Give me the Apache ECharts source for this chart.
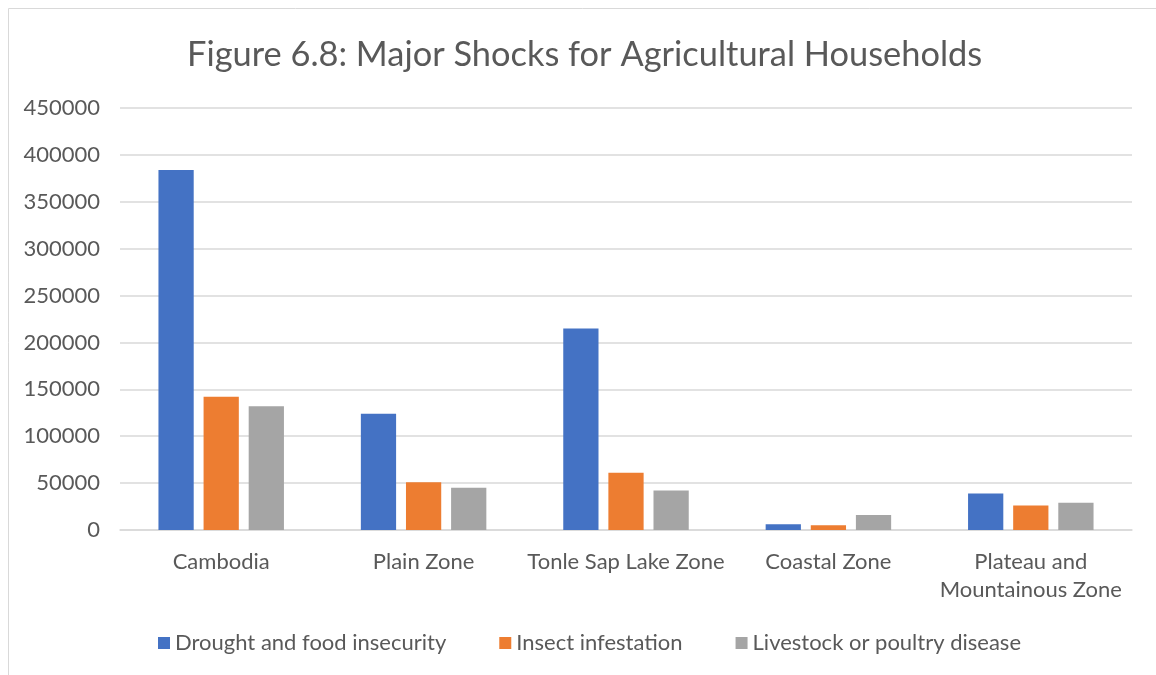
<!DOCTYPE html>
<html>
<head>
<meta charset="utf-8">
<script src="https://cdn.jsdelivr.net/npm/echarts@6/dist/echarts.min.js"></script>
<style>
  html, body { margin: 0; padding: 0; background: #fff; }
  #chart { width: 1156px; height: 675px; }
</style>
</head>
<body>
<div id="chart"></div>
<script>
// Zones and household counts per shock type
const categories = ['Cambodia', 'Plain Zone', 'Tonle Sap Lake Zone', 'Coastal Zone', 'Plateau and\nMountainous Zone'];
const drought = [384000, 124000, 215000, 6000, 39000];
const insect = [142000, 51000, 61000, 5000, 26000];
const livestock = [132000, 45000, 42000, 16000, 29000];
const seriesNames = ['Drought and food insecurity', 'Insect infestation', 'Livestock or poultry disease'];
const colors = ['#4472c4', '#ed7d31', '#a5a5a5'];

const font = 'Lato, "Open Sans", sans-serif';
const textColor = '#595959';

const chart = echarts.init(document.getElementById('chart'));
chart.setOption({
  animation: false,
  graphic: [{
    type: 'rect',
    shape: { x: 8.5, y: 8.5, width: 1160, height: 680 },
    style: { fill: 'none', stroke: '#d9d9d9', lineWidth: 1 },
    silent: true
  }],
  title: {
    text: 'Figure 6.8: Major Shocks for Agricultural Households',
    left: 182,
    top: 33,
    textStyle: { fontFamily: font, fontSize: 34.4, fontWeight: 'normal', color: textColor }
  },
  legend: {
    bottom: 16,
    left: 153,
    itemWidth: 12,
    itemHeight: 12,
    itemGap: 53,
    icon: 'rect',
    textStyle: { fontFamily: font, fontSize: 22, color: textColor },
    data: seriesNames
  },
  grid: { left: 120, right: 24, top: 108, bottom: 145 },
  xAxis: {
    type: 'category',
    data: categories,
    axisLine: { lineStyle: { color: '#d9d9d9', width: 1.5 } },
    axisTick: { show: false },
    axisLabel: { interval: 0, fontFamily: font, fontSize: 22, color: textColor, margin: 18, lineHeight: 28 }
  },
  yAxis: {
    type: 'value',
    min: 0,
    max: 450000,
    interval: 50000,
    axisLine: { show: false },
    axisTick: { show: false },
    splitLine: { lineStyle: { color: '#d9d9d9', width: 1.5 } },
    axisLabel: { formatter: v => String(v), fontFamily: font, fontSize: 22, color: textColor, margin: 20 }
  },
  series: [
    { name: seriesNames[0], type: 'bar', data: drought, itemStyle: { color: colors[0] }, barGap: '28%', barCategoryGap: '38%' },
    { name: seriesNames[1], type: 'bar', data: insect, itemStyle: { color: colors[1] } },
    { name: seriesNames[2], type: 'bar', data: livestock, itemStyle: { color: colors[2] } }
  ]
});
</script>
</body>
</html>
